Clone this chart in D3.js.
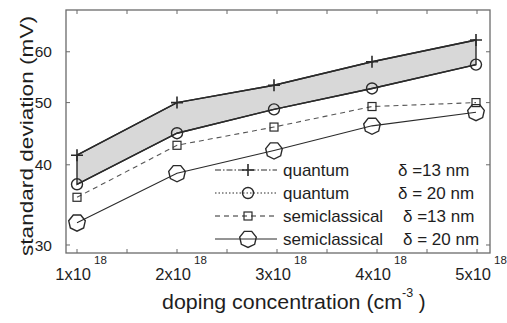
<!DOCTYPE html>
<html>
<head>
<meta charset="utf-8">
<script src="https://cdn.jsdelivr.net/npm/d3@7"></script>
<style>
  html, body { margin: 0; padding: 0; background: #fff; }
  svg { display: block; font-family: "Liberation Sans", Arial, Helvetica, sans-serif; }
</style>
</head>
<body>
<svg id="chart" width="507" height="323"></svg>
<script>
// ---- data ----
const doping = [1, 2, 2.97, 3.95, 4.99];           // x 10^18 cm^-3
const quantum13 = [41.4, 50.0, 53.2, 57.9, 62.6];
const quantum20 = [37.3, 44.8, 48.8, 52.6, 57.3];
const semi13    = [35.6, 42.9, 45.8, 49.3, 50.0];
const semi20    = [32.5, 38.8, 42.1, 46.0, 48.3];
const xTickValues = [1, 1.5, 2, 2.5, 3, 3.5, 4, 4.5, 5];
const xTickLabels = ["1x10", "2x10", "3x10", "4x10", "5x10"];
const xLabelValues = [1, 2, 3, 4, 5];
const yTickValues = [30, 40, 50, 60];
const legendNames = ["quantum", "quantum", "semiclassical", "semiclassical"];
const legendDeltas = ["\u03B4 =13 nm", "\u03B4 = 20 nm", "\u03B4 =13 nm", "\u03B4 = 20 nm"];

// ---- layout ----
const svg = d3.select("#chart");
const L = 66, R = 490, T = 10, B = 253;
const x = d3.scaleLinear().domain([0.89, 5.13]).range([L, R]);
const y = d3.scaleLog().domain([29.15, 69.7]).range([B, T]);
const frameColor = "#6a6a6a";
const ink = "#2a2a2a";
const textColor = "#1e1e1e";

// shaded band between quantum curves
const band = doping.map((d, i) => ({x: d, hi: quantum13[i], lo: quantum20[i]}));
svg.append("path")
  .datum(band)
  .attr("d", d3.area().x(d => x(d.x)).y0(d => y(d.lo)).y1(d => y(d.hi)))
  .attr("fill", "#d8d8d8")
  .attr("stroke", ink)
  .attr("stroke-width", 1.4);

// frame
svg.append("rect").attr("x", L).attr("y", T).attr("width", R - L).attr("height", B - T)
  .attr("fill", "none").attr("stroke", frameColor).attr("stroke-width", 1.3);

// axes (ticks inward, both sides)
const tk = 4;
const gx = svg.append("g").attr("stroke", frameColor).attr("stroke-width", 1);
gx.selectAll("line.b").data(xTickValues).join("line")
  .attr("x1", d => x(d)).attr("x2", d => x(d)).attr("y1", B).attr("y2", B - tk);
gx.selectAll("line.t").data(xTickValues).join("line")
  .attr("x1", d => x(d)).attr("x2", d => x(d)).attr("y1", T).attr("y2", T + tk);
gx.selectAll("line.l").data(yTickValues).join("line")
  .attr("x1", L).attr("x2", L + tk).attr("y1", d => y(d)).attr("y2", d => y(d));
gx.selectAll("line.r").data(yTickValues).join("line")
  .attr("x1", R).attr("x2", R - tk).attr("y1", d => y(d)).attr("y2", d => y(d));

// y tick labels
svg.append("g").selectAll("text").data(yTickValues).join("text")
  .attr("x", L - 14).attr("y", d => y(d)).attr("dy", "0.36em")
  .attr("text-anchor", "end").attr("font-size", 15.5).attr("fill", textColor)
  .text(d => d);

// x tick labels with superscript 18
const xl = svg.append("g").attr("fill", textColor);
xLabelValues.forEach((v, i) => {
  const px = x(v);
  xl.append("text").attr("x", px + 14).attr("y", 280)
    .attr("text-anchor", "end").attr("font-size", 16.5).text(xTickLabels[i]);
  xl.append("text").attr("x", px + 17).attr("y", 264)
    .attr("font-size", 11.5).text("18");
});

// axis titles
const xt = svg.append("text").attr("x", 162).attr("y", 309)
  .attr("font-size", 20.5).attr("fill", textColor);
xt.append("tspan").attr("textLength", 240).attr("lengthAdjust", "spacingAndGlyphs").text("doping concentration (cm");
xt.append("tspan").attr("font-size", 12.5).attr("dy", -12).text("-3");
xt.append("tspan").attr("dy", 12).text(" )");

svg.append("text")
  .attr("transform", "translate(33,136) rotate(-90)")
  .attr("text-anchor", "middle").attr("font-size", 19).attr("fill", textColor)
  .attr("textLength", 240).attr("lengthAdjust", "spacingAndGlyphs")
  .text("standard deviation (mV)");

// marker helpers
function heptagon(r) {
  const pts = d3.range(7).map(k => {
    const a = Math.PI / 7 + k * 2 * Math.PI / 7 - Math.PI / 2;
    return [r * Math.cos(a), r * Math.sin(a)];
  });
  return "M" + pts.map(p => p.join(",")).join("L") + "Z";
}
function drawMarker(g, type, cx, cy) {
  if (type === "plus") {
    g.append("path").attr("d", `M${cx-6},${cy}H${cx+6}M${cx},${cy-6}V${cy+6}`)
      .attr("stroke", ink).attr("stroke-width", 1.6).attr("fill", "none");
  } else if (type === "circle") {
    g.append("circle").attr("cx", cx).attr("cy", cy).attr("r", 5.5)
      .attr("fill", "none").attr("stroke", ink).attr("stroke-width", 1.4);
  } else if (type === "square") {
    g.append("rect").attr("x", cx - 4).attr("y", cy - 4).attr("width", 8).attr("height", 8)
      .attr("fill", "none").attr("stroke", ink).attr("stroke-width", 1.2);
  } else {
    g.append("path").attr("d", heptagon(8.5)).attr("transform", `translate(${cx},${cy})`)
      .attr("fill", "none").attr("stroke", ink).attr("stroke-width", 1.4);
  }
}

const series = [
  {vals: quantum13, marker: "plus", dash: null, w: 1.4, legendDash: "6,2,1.5,2"},
  {vals: quantum20, marker: "circle", dash: null, w: 1.4, legendDash: "1.5,2"},
  {vals: semi13, marker: "square", dash: "5,4", w: 1.1, legendDash: "5,4"},
  {vals: semi20, marker: "hept", dash: null, w: 1.1, legendDash: null}
];
const line = d3.line().x(d => x(d[0])).y(d => y(d[1]));
series.forEach(s => {
  const pts = doping.map((d, i) => [d, s.vals[i]]);
  svg.append("path").datum(pts).attr("d", line)
    .attr("fill", "none").attr("stroke", s.marker === "square" ? "#555" : ink)
    .attr("stroke-width", s.w).attr("stroke-dasharray", s.dash);
  const g = svg.append("g");
  pts.forEach(p => drawMarker(g, s.marker, x(p[0]), y(p[1])));
});

// legend
const legY = [170, 193, 216, 239];
const deltaX = [398, 398, 403, 403];
series.forEach((s, i) => {
  const g = svg.append("g");
  g.append("line").attr("x1", 215).attr("x2", 277).attr("y1", legY[i]).attr("y2", legY[i])
    .attr("stroke", ink).attr("stroke-width", 1).attr("stroke-dasharray", s.legendDash);
  drawMarker(g, s.marker, 248, legY[i]);
  g.append("text").attr("x", 283).attr("y", legY[i]).attr("dy", "0.36em")
    .attr("font-size", 17).attr("fill", textColor).text(legendNames[i]);
  g.append("text").attr("x", deltaX[i]).attr("y", legY[i]).attr("dy", "0.36em")
    .attr("font-size", 17).attr("fill", textColor).text(legendDeltas[i]);
});
</script>
</body>
</html>
